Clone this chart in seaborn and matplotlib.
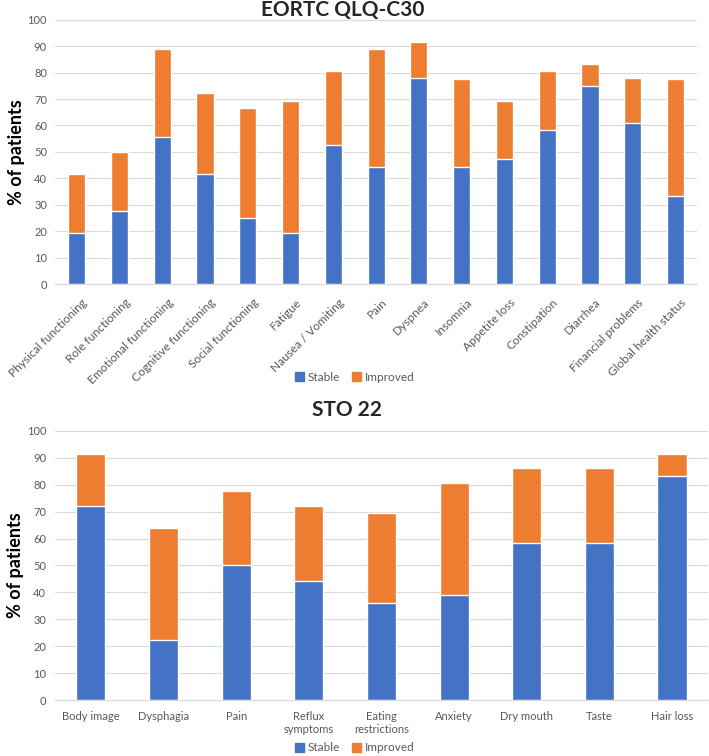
import matplotlib
matplotlib.use("Agg")
import matplotlib.pyplot as plt
import matplotlib.transforms as mtransforms
import seaborn as sns
import numpy as np
from matplotlib.patches import Patch

# EORTC QLQ-C30 data (% of patients)
qlq_labels = ["Physical functioning", "Role functioning", "Emotional functioning",
              "Cognitive functioning", "Social functioning", "Fatigue",
              "Nausea / Vomiting", "Pain", "Dyspnea", "Insomnia", "Appetite loss",
              "Constipation", "Diarrhea", "Financial problems", "Global health status"]
qlq_stable = [19.4, 27.8, 55.6, 41.7, 25.0, 19.4, 52.8, 44.4, 77.8, 44.4, 47.2, 58.3, 75.0, 61.1, 33.3]
qlq_improved = [22.2, 22.2, 33.3, 30.6, 41.7, 50.0, 27.8, 44.4, 13.9, 33.3, 22.2, 22.2, 8.3, 16.7, 44.4]

# STO 22 data
sto_labels = ["Body image", "Dysphagia", "Pain", "Reflux\nsymptoms", "Eating\nrestrictions",
              "Anxiety", "Dry mouth", "Taste", "Hair loss"]
sto_stable = [72.2, 22.2, 50.0, 44.4, 36.1, 38.9, 58.3, 58.3, 83.3]
sto_improved = [19.4, 41.7, 27.8, 27.8, 33.3, 41.7, 27.8, 27.8, 8.3]

BLUE = "#4472C4"
ORANGE = "#ED7D31"
GREY = "#595959"

sns.set_style("white")
plt.rcParams["font.family"] = ["Lato", "DejaVu Sans"]

fig = plt.figure(figsize=(7.09, 7.56), dpi=100)
ax1 = fig.add_axes([0.078, 0.624, 0.905, 0.350])
ax2 = fig.add_axes([0.077, 0.074, 0.922, 0.356])


def stacked(ax, labels, stable, improved):
    totals = np.array(stable) + np.array(improved)
    sns.barplot(x=labels, y=totals, color=ORANGE, width=0.4, ax=ax, saturation=1)
    sns.barplot(x=labels, y=stable, color=BLUE, width=0.4, ax=ax, saturation=1)
    ax.set_ylim(0, 100)
    ax.set_yticks(range(0, 101, 10))
    ax.set_xlim(-0.5, len(labels) - 0.5)
    ax.yaxis.grid(True, color="#D9D9D9", linewidth=0.8)
    ax.set_axisbelow(True)
    for s in ["top", "right", "left"]:
        ax.spines[s].set_visible(False)
    ax.spines["bottom"].set_color("#D9D9D9")
    ax.tick_params(axis="both", length=0, labelsize=8, labelcolor=GREY)
    ax.tick_params(axis="y", pad=6)
    ax.set_ylabel("% of patients", fontsize=13, fontweight="bold", color="black", labelpad=2)


stacked(ax1, qlq_labels, qlq_stable, qlq_improved)
ax1.tick_params(axis="x", pad=9, labelsize=8.6)
shift = mtransforms.ScaledTranslation(5 / 100, 0, fig.dpi_scale_trans)
for lbl in ax1.get_xticklabels():
    lbl.set_rotation(45)
    lbl.set_ha("right")
    lbl.set_rotation_mode("anchor")
    lbl.set_transform(lbl.get_transform() + shift)

stacked(ax2, sto_labels, sto_stable, sto_improved)
ax2.tick_params(axis="x", pad=8)

fig.text(0.484, 1 - 10 / 756, "EORTC QLQ-C30", ha="center", va="center",
         fontsize=15, fontweight="bold")
fig.text(0.489, 1 - 410 / 756, "STO 22", ha="center", va="center",
         fontsize=15, fontweight="bold")

handles = [Patch(color=BLUE, label="Stable"), Patch(color=ORANGE, label="Improved")]
for y in (0.501, 0.011):
    fig.legend(handles=handles, loc="center", bbox_to_anchor=(0.5, y), ncol=2,
               frameon=False, fontsize=8.5, handlelength=0.8, handleheight=0.8,
               handletextpad=0.3, columnspacing=1.0, labelcolor=GREY)

fig.savefig("out.png", dpi=100)
